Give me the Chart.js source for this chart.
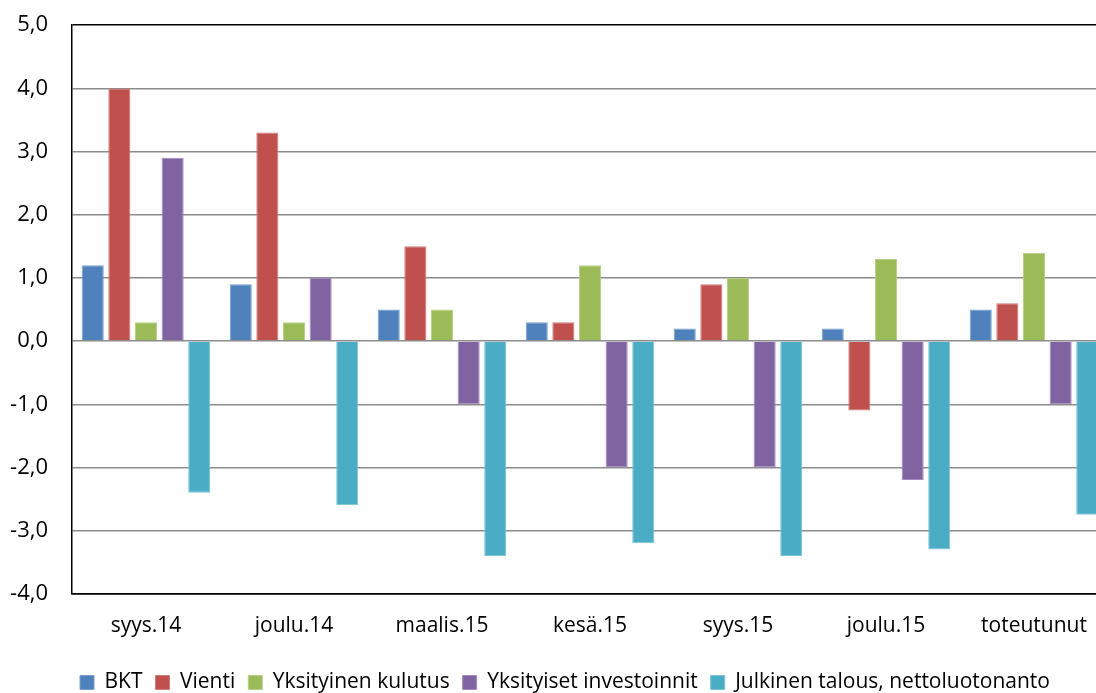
<!DOCTYPE html>
<html>
<head>
<meta charset="utf-8">
<script src="https://cdn.jsdelivr.net/npm/chart.js@4"></script>
<style>
  html, body { margin: 0; padding: 0; background: #fff; overflow: hidden; }
  #wrap { width: 1130px; height: 705px; margin-top: -12px; }
</style>
</head>
<body>
<div id="wrap"><canvas id="chart"></canvas></div>
<script>
// kategoriat ja sarjat
const categories = ["syys.14", "joulu.14", "maalis.15", "kesä.15", "syys.15", "joulu.15", "toteutunut"];
const bkt = [1.2, 0.9, 0.5, 0.3, 0.2, 0.2, 0.5];
const vienti = [4.0, 3.3, 1.5, 0.3, 0.9, -1.1, 0.6];
const kulutus = [0.3, 0.3, 0.5, 1.2, 1.0, 1.3, 1.4];
const investoinnit = [2.9, 1.0, -1.0, -2.0, -2.0, -2.2, -1.0];
const julkinen = [-2.4, -2.6, -3.4, -3.2, -3.4, -3.3, -2.75];
const yTicks = [-4, -3, -2, -1, 0, 1, 2, 3, 4, 5];

const font = "Open Sans, Noto Sans, sans-serif";

function ds(label, data, color, border) {
  return {
    label: label,
    data: data,
    backgroundColor: color,
    borderColor: border,
    borderWidth: 1,
    categoryPercentage: 0.9,
    barPercentage: 0.83,
  };
}

// siirretään selitettä hieman oikealle
const legendShift = {
  id: "legendShift",
  afterLayout(chart) {
    chart.legend.left += 11;
    chart.legend.right += 11;
  },
};

const config = {
  type: "bar",
  data: {
    labels: categories,
    datasets: [
      ds("BKT", bkt, "#4F81BD", "#7a9fd0"),
      ds("Vienti", vienti, "#C0504D", "#d37c79"),
      ds("Yksityinen kulutus", kulutus, "#9BBB59", "#b7cf86"),
      ds("Yksityiset investoinnit", investoinnit, "#8064A2", "#a28cbd"),
      ds("Julkinen talous, nettoluotonanto", julkinen, "#4BACC6", "#7cc4d7"),
    ],
  },
  options: {
    responsive: true,
    maintainAspectRatio: false,
    animation: false,
    layout: { padding: { top: -9, right: 22, left: 0, bottom: -10 } },
    plugins: {
      tooltip: { enabled: false },
      legend: {
        position: "bottom",
        labels: {
          boxWidth: 14,
          boxHeight: 14,
          padding: 13,
          color: "#000",
          font: { family: font, size: 21 },
        },
      },
    },
    scales: {
      x: {
        grid: { display: false, drawTicks: false },
        border: { color: "#000", width: 1.5 },
        ticks: { color: "#000", padding: 20, font: { family: font, size: 21 } },
      },
      y: {
        min: -4,
        max: 5,
        afterBuildTicks: (axis) => { axis.ticks = yTicks.map((v) => ({ value: v })); },
        afterFit: (axis) => { axis.width = 72; },
        grid: {
          color: (c) => (c.tick && (c.tick.value === 5 || c.tick.value === -4) ? "#000" : "#8c8c8c"),
          lineWidth: 1.5,
          drawTicks: false,
        },
        border: { color: "#000", width: 1.5 },
        ticks: {
          color: "#000",
          padding: 24,
          font: { family: font, size: 22 },
          callback: (v) => v.toFixed(1).replace(".", ","),
        },
      },
    },
  },
  plugins: [legendShift],
};

new Chart(document.getElementById("chart").getContext("2d"), config);
</script>
</body>
</html>
